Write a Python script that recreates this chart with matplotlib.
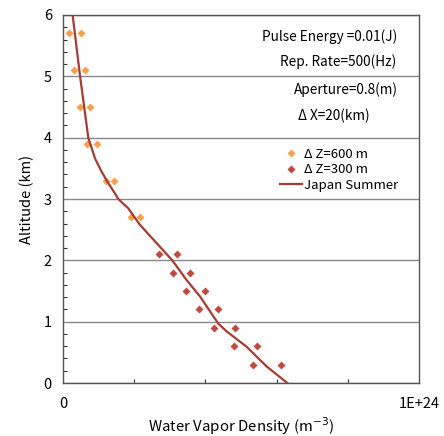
import matplotlib
matplotlib.use("Agg")
import matplotlib.pyplot as plt
import numpy as np

plt.rcParams['font.family'] = ['Noto Sans CJK JP', 'DejaVu Sans']

# Japan Summer model profile (x in units of 1e24 m^-3)
model_alt = [6.0, 5.0, 4.0, 3.66, 3.45, 3.26, 3.09, 3.0, 2.85, 2.58, 2.0, 1.68, 1.41, 0.97, 0.84, 0.59, 0.27, 0.0]
model_x = [0.027, 0.048, 0.071, 0.090, 0.108, 0.127, 0.146, 0.155, 0.183, 0.216, 0.307, 0.347, 0.385, 0.436, 0.46, 0.516, 0.572, 0.63]

# dZ = 600 m error bounds
z600_alt = [5.7, 5.7, 5.1, 5.1, 4.5, 4.5, 3.9, 3.9, 3.3, 3.3, 2.7, 2.7]
z600_x = [0.017, 0.050, 0.032, 0.063, 0.047, 0.077, 0.068, 0.096, 0.120, 0.142, 0.191, 0.215]

# dZ = 300 m error bounds
z300_alt = [2.1, 2.1, 1.8, 1.8, 1.5, 1.5, 1.2, 1.2, 0.9, 0.9, 0.6, 0.6, 0.3, 0.3]
z300_x = [0.269, 0.319, 0.310, 0.358, 0.346, 0.398, 0.382, 0.435, 0.424, 0.484, 0.480, 0.546, 0.535, 0.612]

scale = 1e24
annotations = ["Pulse Energy =0.01(J)", "Rep. Rate=500(Hz)", "Aperture=0.8(m)", "\u0394 X=20(km)"]

fig = plt.figure(figsize=(4.44, 4.36), dpi=100)
ax = fig.add_axes([63/444, 53/436, 356/444, 368/436])

orange = '#F5A04A'
red = '#C04A42'
line_c = '#A83A35'

ax.plot(np.array(z600_x)*scale, z600_alt, 'D', color=orange, ms=4.5, mec='none', label='\u0394 Z=600 m', zorder=3)
ax.plot(np.array(z300_x)*scale, z300_alt, 'D', color=red, ms=4.5, mec='none', label='\u0394 Z=300 m', zorder=3)
ax.plot(np.array(model_x)*scale, model_alt, '-', color=line_c, lw=1.6, label='Japan Summer', zorder=4)

ax.set_xlim(0, 1*scale)
ax.set_ylim(0, 6)
ax.set_xticks([0, 1*scale])
ax.set_xticklabels(['0', '1E+24'])
ax.set_xticks(np.array([0.2, 0.4, 0.6, 0.8])*scale, minor=True)
ax.set_yticks([0, 1, 2, 3, 4, 5, 6])
ax.set_yticks(np.arange(0, 6.01, 0.2), minor=True)
ax.tick_params(axis='both', which='both', direction='in', labelsize=10.5, colors='#333333')
ax.tick_params(axis='x', which='major', length=0, pad=10)
ax.tick_params(axis='y', which='major', length=0, pad=8)
ax.tick_params(axis='both', which='minor', length=3, width=0.8)
for lbl in ax.get_xticklabels() + ax.get_yticklabels():
    lbl.set_color('black')

ax.grid(axis='y', which='major', color='#888888', lw=1.0)
for s in ax.spines.values():
    s.set_color('#555555')
    s.set_linewidth(1.0)

ax.set_xlabel('Water Vapor Density (m$^{-3}$)', fontsize=10.8, labelpad=3)
ax.set_ylabel('Altitude (km)', fontsize=10.5, labelpad=7)

pos = [(0.938, 0.940), (0.935, 0.872), (0.941, 0.796), (0.862, 0.726)]
for t, (x, y) in zip(annotations, pos):
    ax.text(x, y, t, transform=ax.transAxes, ha='right', va='center', fontsize=9.8)

leg = ax.legend(loc='upper left', bbox_to_anchor=(0.585, 0.665), frameon=False, fontsize=9.5,
                handlelength=1.6, handletextpad=0.2, labelspacing=0.2, borderpad=0.2,
                markerscale=0.8)

fig.savefig('out.png', dpi=100)
